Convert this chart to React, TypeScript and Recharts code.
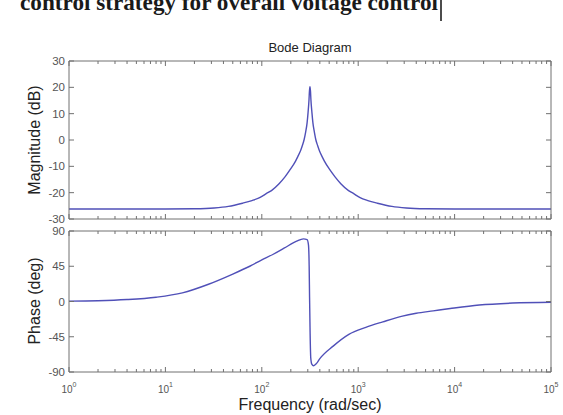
import React from "react";
import { LineChart, Line, XAxis, YAxis } from "recharts";

// magnitude curve (rad/sec -> dB)
const magFreq = [
  1, 3, 10, 20, 32, 45, 63, 79, 95, 112, 126, 151, 174, 199, 224, 237, 251, 263, 275, 285, 295, 302, 309, 312,
  316,
  320, 323, 331, 339, 351, 363, 380, 398, 421, 446, 501, 575, 660, 794, 891, 1046, 1258, 1585, 2237, 3160, 5010,
  10000, 30000, 100000,
];
const magDb = [
  -26.2, -26.2, -26.2, -26.1, -25.8, -25.2, -24.0, -23.0, -21.9, -20.3, -19.2, -16.6, -14.0, -11.0, -8.0, -6.2, -4.3,
  -2.2, 0.2, 3.0, 6.5, 10.5, 15.5, 18.5,
  20.2,
  18.5, 15.5, 10.5, 6.5, 3.0, 0.2, -2.2, -4.3, -6.2, -8.0, -11.0, -14.0, -16.6, -19.2, -20.3, -21.9, -23.0, -24.0,
  -25.2, -25.8, -26.1, -26.2, -26.2, -26.2,
];

// phase curve (rad/sec -> deg)
const phaseFreq = [
  1, 2, 4, 8, 15, 28, 50, 75, 100, 130, 170, 230, 270, 295, 305, 310, 313,
  317, 322, 330, 345, 370, 400, 550, 800, 1200, 1800, 2800, 4000, 6000, 9000, 18000, 40000, 100000,
];
const phaseDeg = [
  0.5, 1, 2.5, 5.5, 11, 22, 35, 45, 53, 60, 68, 77, 80, 79, 72, 45, 5,
  -40, -72, -80, -82, -79, -73, -57, -42, -33, -26, -19, -15, -12, -9, -4.5, -2, -1,
];

const decadeTicks = [1, 10, 100, 1000, 10000, 100000];
const decadeExponents = ["0", "1", "2", "3", "4", "5"];
const minorSteps = [2, 3, 4, 5, 6, 7, 8, 9];
const magTicks = [-30, -20, -10, 0, 10, 20, 30];
const phaseTicks = [-90, -45, 0, 45, 90];

const freqTicks = decadeTicks.flatMap((d) =>
  d === 100000 ? [d] : [d, ...minorSteps.map((m) => m * d)]
);

const magData = magFreq.map((f, i) => ({ f, v: magDb[i] }));
const phaseData = phaseFreq.map((f, i) => ({ f, v: phaseDeg[i] }));

const AXIS = "#707070";
const LABEL = "#555";
const CURVE = "#5050b8";
const FONT = "'Liberation Sans', Arial, sans-serif";

function FreqTick(props: any) {
  const { x, y, payload, side, labels } = props;
  const idx = decadeTicks.indexOf(payload.value);
  const len = idx >= 0 ? 5 : 3;
  const dir = side === "top" ? 1 : -1;
  return (
    <g>
      <line x1={x} x2={x} y1={y} y2={y + dir * len} stroke={AXIS} />
      {labels && idx >= 0 && (
        <text x={x} y={y + 21} textAnchor="middle" fontSize={10} fill={LABEL} fontFamily={FONT}>
          10<tspan dy={-6} fontSize={7}>{decadeExponents[idx]}</tspan>
        </text>
      )}
    </g>
  );
}

function LevelTick(props: any) {
  const { x, y, payload, side, labels } = props;
  const dir = side === "left" ? 1 : -1;
  return (
    <g>
      <line x1={x} x2={x + dir * 5} y1={y} y2={y} stroke={AXIS} />
      {labels && (
        <text x={x - 4} y={y} dy="0.35em" textAnchor="end" fontSize={11.5} fill={LABEL} fontFamily={FONT}>
          {payload.value}
        </text>
      )}
    </g>
  );
}

function Panel({ data, ticks, domain, height, margin, bottomLabels }: any) {
  return (
    <LineChart width={563} height={height} data={data} margin={margin}>
      <XAxis
        xAxisId="bottom"
        dataKey="f"
        type="number"
        scale="log"
        domain={[1, 100000]}
        allowDataOverflow
        ticks={freqTicks}
        interval={0}
        height={bottomLabels ? 30 : 5}
        tickSize={0}
        tickMargin={0}
        tickLine={false}
        stroke={AXIS}
        tick={(p: any) => <FreqTick {...p} side="bottom" labels={bottomLabels} />}
      />
      <XAxis
        xAxisId="top"
        orientation="top"
        dataKey="f"
        type="number"
        scale="log"
        domain={[1, 100000]}
        allowDataOverflow
        ticks={freqTicks}
        interval={0}
        height={5}
        tickSize={0}
        tickMargin={0}
        tickLine={false}
        stroke={AXIS}
        tick={(p: any) => <FreqTick {...p} side="top" />}
      />
      <YAxis
        yAxisId="left"
        type="number"
        domain={domain}
        allowDataOverflow
        ticks={ticks}
        interval={0}
        width={40}
        tickSize={0}
        tickMargin={0}
        tickLine={false}
        stroke={AXIS}
        tick={(p: any) => <LevelTick {...p} side="left" labels />}
      />
      <YAxis
        yAxisId="right"
        orientation="right"
        type="number"
        domain={domain}
        allowDataOverflow
        ticks={ticks}
        interval={0}
        width={5}
        tickSize={0}
        tickMargin={0}
        tickLine={false}
        stroke={AXIS}
        tick={(p: any) => <LevelTick {...p} side="right" />}
      />
      <Line
        xAxisId="bottom"
        yAxisId="left"
        dataKey="v"
        type="monotone"
        stroke={CURVE}
        strokeWidth={1.4}
        dot={false}
        isAnimationActive={false}
      />
    </LineChart>
  );
}

export default function App() {
  return (
    <div style={{ position: "absolute", left: 0, top: 0, width: 563, height: 415, background: "#fff", overflow: "hidden" }}>
      <div style={{ position: "absolute", left: 0, top: 0 }}>
        <Panel
          data={magData}
          ticks={magTicks}
          domain={[-30, 30]}
          height={228}
          margin={{ top: 56, right: 7, bottom: 4, left: 29 }}
        />
      </div>
      <div style={{ position: "absolute", left: 0, top: 225 }}>
        <Panel
          data={phaseData}
          ticks={phaseTicks}
          domain={[-90, 90]}
          height={190}
          margin={{ top: 1, right: 7, bottom: 13, left: 29 }}
          bottomLabels
        />
      </div>
      <svg width={563} height={415} style={{ position: "absolute", left: 0, top: 0, pointerEvents: "none" }}>
        {/* line of document text cut off by the top edge of the screenshot */}
        <text x={20} y={10} fontFamily="'Liberation Serif', 'Times New Roman', serif" fontWeight="bold" fontSize={23}
          textLength={418} lengthAdjust="spacingAndGlyphs" fill="#1a1a1a">
          control strategy for overall voltage control
        </text>
        <line x1={441} x2={441} y1={0} y2={21} stroke="#111" strokeWidth={1.5} />
        <text x={310} y={52} textAnchor="middle" fontFamily={FONT} fontSize={13} fill="#222">
          Bode Diagram
        </text>
        <text transform="translate(40,140) rotate(-90)" textAnchor="middle" fontFamily={FONT} fontSize={16} fill="#222">
          Magnitude (dB)
        </text>
        <text transform="translate(40,301) rotate(-90)" textAnchor="middle" fontFamily={FONT} fontSize={16} fill="#222">
          Phase (deg)
        </text>
        <text x={310} y={410} textAnchor="middle" fontFamily={FONT} fontSize={16} fill="#222">
          Frequency (rad/sec)
        </text>
      </svg>
    </div>
  );
}
